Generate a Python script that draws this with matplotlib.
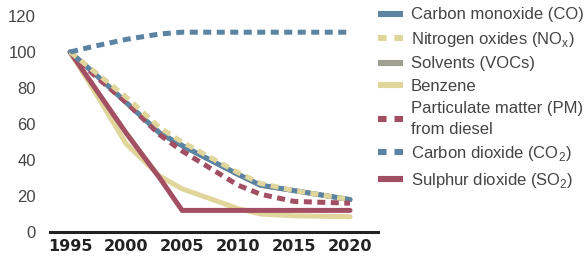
import matplotlib
matplotlib.use('Agg')
import matplotlib.pyplot as plt
from matplotlib.lines import Line2D

years = [1995, 1997, 2000, 2003, 2005, 2010, 2012, 2015, 2020]
carbon_monoxide = [100, 89, 72, 55, 48, 32, 26, 23, 18]
nitrogen_oxides = [100, 90, 75, 58, 50, 33, 27, 23, 18]
solvents = [100, 89, 72, 55, 48, 32, 26, 23, 18]
benzene = [100, 80, 49, 31, 24, 13, 10, 9, 8.5]
particulate = [100, 88, 72, 54, 45, 26, 21, 17, 16]
carbon_dioxide = [100, 103, 107, 110, 111, 111, 111, 111, 111]
sulphur_dioxide = [100, 82, 55, 30, 12, 12, 12, 12, 12]

xticks = [1995, 2000, 2005, 2010, 2015, 2020]
yticks = [0, 20, 40, 60, 80, 100, 120]

blue = '#5b84a3'
yellow = '#e0d59a'
grey = '#a0a091'
red = '#a34f63'

plt.rcParams['font.family'] = ['Liberation Sans', 'DejaVu Sans']

fig = plt.figure(figsize=(5.86, 2.62), dpi=100)
ax = fig.add_axes([50 / 586, 30 / 262, 328 / 586, 219.6 / 262])

lw = 3.6
dash = (0, (1.6, 1.1))
solid = dict(lw=lw, solid_capstyle='round', solid_joinstyle='round')

ax.plot(years, solvents, color=grey, zorder=1, **solid)
ax.plot(years, benzene, color=yellow, zorder=2, **solid)
ax.plot(years, sulphur_dioxide, color=red, zorder=3, **solid)
ax.plot(years, carbon_monoxide, color=blue, zorder=4, **solid)
ax.plot(years, particulate, color=red, lw=lw, linestyle=dash, zorder=5)
ax.plot(years, nitrogen_oxides, color=yellow, lw=lw, linestyle=dash, zorder=6)
ax.plot(years, carbon_dioxide, color=blue, lw=lw, linestyle=dash, zorder=7)

ax.set_xlim(1993.2, 2022.5)
ax.set_ylim(0, 122)
ax.set_xticks(xticks)
ax.set_yticks(yticks)
ax.set_xticklabels([str(y) for y in xticks], fontfamily='DejaVu Sans',
                   fontweight='bold', fontsize=11.5, color='#222222')
ax.set_yticklabels([str(v) for v in yticks], fontsize=12, color='#444444')
ax.tick_params(axis='both', length=0)
ax.tick_params(axis='x', pad=5)
ax.tick_params(axis='y', pad=10)
for side in ['top', 'right', 'left']:
    ax.spines[side].set_visible(False)
ax.spines['bottom'].set_linewidth(2.2)
ax.spines['bottom'].set_color('#222222')

# legend proxies with square ends
hlw = 4.4
hdash = (0, (1.4, 1.3))
handles = [Line2D([], [], color=blue, lw=hlw, solid_capstyle='butt'),
           Line2D([], [], color=yellow, lw=hlw, ls=hdash),
           Line2D([], [], color=grey, lw=hlw, solid_capstyle='butt'),
           Line2D([], [], color=yellow, lw=hlw, solid_capstyle='butt'),
           Line2D([], [], color=red, lw=hlw, ls=hdash),
           Line2D([], [], color=blue, lw=hlw, ls=hdash),
           Line2D([], [], color=red, lw=hlw, solid_capstyle='butt')]
labels = ['Carbon monoxide (CO)',
          r'Nitrogen oxides (NO$_\mathregular{x}$)',
          'Solvents (VOCs)',
          'Benzene',
          'Particulate matter (PM)\nfrom diesel',
          r'Carbon dioxide (CO$_\mathregular{2}$)',
          r'Sulphur dioxide (SO$_\mathregular{2}$)']
leg = fig.legend(handles, labels, loc='upper left', bbox_to_anchor=(375 / 586, 1 - 4 / 262),
                 frameon=False, fontsize=12, handlelength=1.5, handletextpad=0.45,
                 labelspacing=0.45, borderpad=0.2, borderaxespad=0)
for t in leg.get_texts():
    t.set_color('#444444')
    t.set_linespacing(1.45)

fig.savefig('out.png', dpi=100)
